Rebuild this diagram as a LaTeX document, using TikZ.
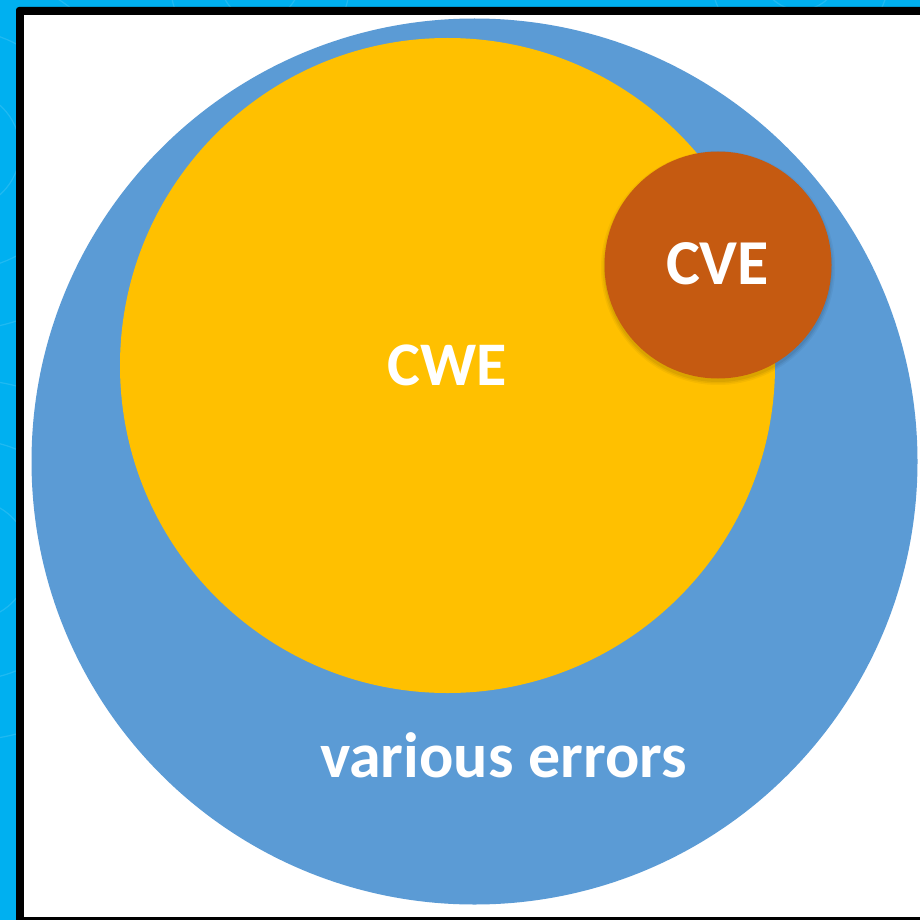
\documentclass[tikz,border=0pt]{standalone}
\usepackage{fontspec}
\setmainfont{Carlito}
\definecolor{bgcyan}{HTML}{00B0F0}
\definecolor{outerblue}{HTML}{5B9BD5}
\definecolor{cweyellow}{HTML}{FFC000}
\definecolor{cveorange}{HTML}{C55A11}
\tikzset{
  lbl/.style={text=white, font=\bfseries\fontsize{62}{62}\selectfont, anchor=base, inner sep=0pt},
  disc/.style={circle, inner sep=0pt, draw=none}
}
\begin{document}
\begin{tikzpicture}[x=1pt,y=-1pt]
\useasboundingbox (0,0) rectangle (920,920);
% background
\fill[bgcyan] (0,0) rectangle (920,920);
\begin{scope}
\clip (0,0) rectangle (920,920);
\foreach \r in {60,120,180} {
  \draw[white, opacity=0.12, line width=1.2pt] (-40,150) circle (\r);
  \draw[white, opacity=0.12, line width=1.2pt] (-30,560) circle (\r);
}
\foreach \r in {40,90} {
  \draw[white, opacity=0.12, line width=1.2pt] (260,-20) circle (\r);
  \draw[white, opacity=0.12, line width=1.2pt] (800,-30) circle (\r);
}
\end{scope}
% frame
\fill[black, rounded corners=3pt] (16,7) rectangle (940,940);
\fill[white] (24,15) rectangle (940,917);
\begin{scope}
\clip (24,15) rectangle (920,917);
% outer circle
\node[disc, fill=outerblue, minimum size=886] (various) at (474.5,461.5) {};
% CWE circle
\node[disc, fill=cweyellow, minimum size=655] (cwe) at (447.5,365.5) {};
% CVE shadow
\foreach \o/\a in {4/0.04,2.5/0.05,1/0.06} {
  \fill[black, opacity=\a] (718,268) circle (113+\o);
}
\node[disc, fill=cveorange, minimum size=227] (cve) at (718,265) {};
\end{scope}
% labels
\node[lbl] (cwetext) at (447.5,385) {CWE};
\node[lbl, font=\bfseries\fontsize{64}{64}\selectfont] (cvetext) at (717.5,284) {CVE};
\node[lbl, font=\bfseries\fontsize{64}{64}\selectfont] (varioustext) at (503.5,777) {various errors};
\end{tikzpicture}
\end{document}
